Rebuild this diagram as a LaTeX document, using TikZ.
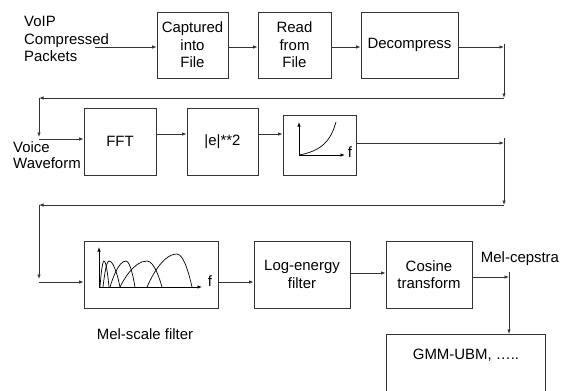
\documentclass[tikz,border=0pt]{standalone}
\usepackage{fontspec}
\setmainfont{Liberation Sans}
\usetikzlibrary{calc}
\usetikzlibrary{arrows.meta}

\tikzset{
  blk/.style={draw=black!80,line width=0.8bp,inner sep=0pt,align=center,font=\fontsize{15}{17.5}\selectfont},
  lbl/.style={inner sep=0pt,align=left,font=\fontsize{15}{17.5}\selectfont},
  arr/.style={draw=black!80,line width=0.8bp,-{Latex[length=4.5bp,width=3.5bp]}},
  axis/.style={black,line width=0.8bp,-{Latex[length=4.5bp,width=3.5bp]}},
  hump/.style={black,line width=0.7bp},
}

\begin{document}
\begin{tikzpicture}[x=1bp,y=-1bp]

\useasboundingbox (0,0) rectangle (568,390);
\clip (0,0) rectangle (568,390);

\node[blk,minimum width=71bp,minimum height=66bp] (cap) at (192.5,45) {Captured\\into\\File};
\node[blk,minimum width=73bp,minimum height=66bp] (read) at (294.5,45) {Read\\from\\File};
\node[blk,minimum width=97bp,minimum height=66bp] (dec) at (409.5,45) {Decompress};

\node[blk,minimum width=72bp,minimum height=67bp] (fft) at (120,141.5) {FFT};
\node[blk,minimum width=71bp,minimum height=67bp] (esq) at (222.5,141.5) {|e|**2};
\node[blk,minimum width=73bp,minimum height=60bp] (pow) at (319.5,145) {};

\node[blk,minimum width=134bp,minimum height=67bp] (mel) at (151,274.5) {};
\node[blk,minimum width=96bp,minimum height=67bp] (loge) at (302,274.5) {Log-energy\\filter};
\node[blk,minimum width=86bp,minimum height=67bp] (cos) at (429,274.5) {Cosine\\transform};
\node[blk,minimum width=159bp,minimum height=70bp,anchor=north] (gmm) at (465.5,334) {};

\node[lbl,anchor=west] (pkt) at (24,39) {VoIP\\Compressed\\Packets};
\node[lbl,anchor=west,font=\fontsize{15}{16}\selectfont] (wave) at (13,155) {Voice\\Waveform};
\node[lbl] (mellbl) at (145,334) {Mel-scale filter};
\node[lbl] (ceps) at (520,259) {Mel-cepstra};
\node[lbl] (gmmtxt) at (466,355) {GMM-UBM, …..};

\coordinate (in1) at (95,47);
\coordinate (c1) at (504,47);
\coordinate (c2) at (504,98);
\coordinate (c3) at (39,98);
\coordinate (c4) at (39,139);

\coordinate (r2) at (0,134);
\coordinate (c5) at (504,143);
\coordinate (c6) at (504,205);
\coordinate (c7) at (39,205);
\coordinate (c8) at (39,282);

\coordinate (r3) at (0,273);
\coordinate (c9) at (509,277);

\draw[arr] (in1)--(cap.west |- in1);
\draw[arr] (cap.east |- in1)--(read.west |- in1);
\draw[arr] (read.east |- in1)--(dec.west |- in1);
\draw[arr] (dec.east |- in1)--(c1);
\draw[arr] ($(c1)+(0,-3)$)--(c2);
\draw[arr] (c2)--(c3);
\draw[arr] (c3)--($(c4)+(0,-2)$);
\draw[arr] (c4)--(fft.west |- c4);

\draw[arr] (fft.east |- r2)--(esq.west |- r2);
\draw[arr] (esq.east |- r2)--(pow.west |- r2);
\draw[arr] (pow.east |- c5)--(c5);
\draw[arr] ($(c5)+(0,-5)$)--(c6);
\draw[arr] (c6)--(c7);
\draw[arr] (c7)--($(c8)+(0,-3)$);
\draw[arr] (c8)--(mel.west |- c8);

\draw[arr] (mel.east |- c8)--(loge.west |- c8);
\draw[arr] (loge.east |- r3)--(cos.west |- r3);
\draw[arr] (cos.east |- c9)--(c9);
\draw[arr] ($(c9)+(0,-5)$)--(gmm.north -| c9);

\draw[axis] (299,155)--(299,122);
\draw[axis] (299,155)--(345,155);
\node[lbl] (f1) at (350,152) {f};
\draw[hump] (299,155) .. controls (322,151) and (331,140) .. (336,122);

\draw[axis] (99,287)--(99,247);
\draw[axis] (99,287)--(202,287);
\node[lbl] (f2) at (210,281) {f};
\draw[hump] (100,287) parabola bend (104,261) (109,287);
\draw[hump] (103,287) parabola bend (109,261) (120,287);
\draw[hump] (110,287) parabola bend (126,261) (135,287);
\draw[hump] (120,287) parabola bend (147,261) (162,287);
\draw[hump] (147,287) parabola bend (177,254) (192,287);

\end{tikzpicture}
\end{document}
